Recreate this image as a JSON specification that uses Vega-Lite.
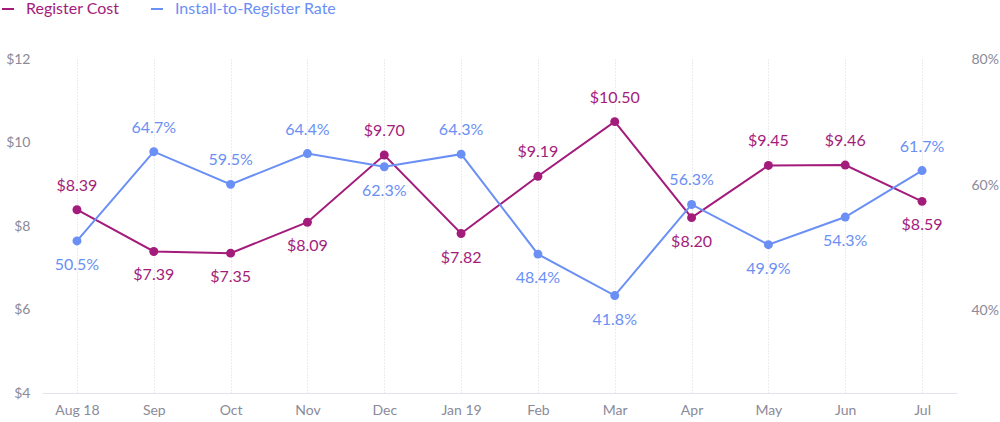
{
  "$schema": "https://vega.github.io/schema/vega-lite/v6.json",
  "width": 915,
  "height": 334,
  "autosize": "none",
  "padding": {"left": 42, "top": 59, "right": 43, "bottom": 29},
  "config": {"view": {"stroke": null}, "font": "Lato"},
  "data": {
    "values": [
      {"month": "Aug 18", "cost": 8.39, "rate": 0.505},
      {"month": "Sep", "cost": 7.39, "rate": 0.647},
      {"month": "Oct", "cost": 7.35, "rate": 0.595},
      {"month": "Nov", "cost": 8.09, "rate": 0.644},
      {"month": "Dec", "cost": 9.70, "rate": 0.623},
      {"month": "Jan 19", "cost": 7.82, "rate": 0.643},
      {"month": "Feb", "cost": 9.19, "rate": 0.484},
      {"month": "Mar", "cost": 10.50, "rate": 0.418},
      {"month": "Apr", "cost": 8.20, "rate": 0.563},
      {"month": "May", "cost": 9.45, "rate": 0.499},
      {"month": "Jun", "cost": 9.46, "rate": 0.543},
      {"month": "Jul", "cost": 8.59, "rate": 0.617}
    ]
  },
  "encoding": {
    "x": {
      "field": "month",
      "type": "ordinal",
      "sort": null,
      "scale": {"type": "point", "padding": 0.455},
      "axis": {
        "title": null,
        "labelAngle": 0,
        "grid": true,
        "gridDash": [1, 2],
        "gridColor": "#d9d9de",
        "ticks": false,
        "domainColor": "#e1e4ec",
        "labelColor": "#8a8a99",
        "labelFontSize": 14,
        "labelPadding": 10
      }
    }
  },
  "layer": [
    {
      "encoding": {
        "y": {
          "field": "cost",
          "type": "quantitative",
          "scale": {"domain": [4, 12], "zero": false, "nice": false},
          "axis": {
            "title": null,
            "values": [4, 6, 8, 10, 12],
            "labelExpr": "'$' + datum.value",
            "domain": false,
            "ticks": false,
            "grid": false,
            "labelPadding": 12,
            "labelColor": "#8a8a99",
            "labelFontSize": 14
          }
        },
        "color": {
          "datum": "Register Cost",
          "type": "nominal",
          "scale": {"domain": ["Register Cost", "Install-to-Register Rate"], "range": ["#a31c7b", "#6a8ff5"]},
          "legend": {
            "orient": "none",
            "legendX": -42,
            "legendY": -58,
            "direction": "horizontal",
            "title": null,
            "symbolType": "stroke",
            "symbolStrokeWidth": 2,
            "symbolSize": 144,
            "labelFontSize": 16,
            "labelLimit": 400,
            "columnPadding": 27,
            "labelOffset": 10,
            "encode": {"labels": {"update": {"fill": {"scale": "color", "field": "value"}}}}
          }
        }
      },
      "layer": [
        {"mark": {"type": "line", "strokeWidth": 2}},
        {"mark": {"type": "point", "filled": true, "size": 80, "opacity": 1}},
        {
          "transform": [{"filter": {"field": "month", "oneOf": ["Aug 18", "Dec", "Feb", "Mar", "May", "Jun"]}}],
          "mark": {"type": "text", "dy": -24, "fontSize": 16},
          "encoding": {"text": {"field": "cost", "type": "quantitative", "format": "$.2f"}}
        },
        {
          "transform": [{"filter": {"field": "month", "oneOf": ["Sep", "Oct", "Nov", "Jan 19", "Apr", "Jul"]}}],
          "mark": {"type": "text", "dy": 24, "fontSize": 16},
          "encoding": {"text": {"field": "cost", "type": "quantitative", "format": "$.2f"}}
        }
      ]
    },
    {
      "encoding": {
        "y": {
          "field": "rate",
          "type": "quantitative",
          "scale": {"domain": [0.263, 0.7945], "zero": false, "nice": false},
          "axis": {
            "orient": "right",
            "title": null,
            "values": [0.3938, 0.5936, 0.794],
            "labelExpr": "format(round(datum.value * 10) / 10, '.0%')",
            "domain": false,
            "ticks": false,
            "grid": false,
            "labelPadding": 14,
            "labelColor": "#8a8a99",
            "labelFontSize": 14
          }
        },
        "color": {"datum": "Install-to-Register Rate", "type": "nominal"}
      },
      "layer": [
        {"mark": {"type": "line", "strokeWidth": 2}},
        {"mark": {"type": "point", "filled": true, "size": 80, "opacity": 1}},
        {
          "transform": [{"filter": {"field": "month", "oneOf": ["Sep", "Oct", "Nov", "Jan 19", "Apr", "Jul"]}}],
          "mark": {"type": "text", "dy": -24, "fontSize": 16},
          "encoding": {"text": {"field": "rate", "type": "quantitative", "format": ".1%"}}
        },
        {
          "transform": [{"filter": {"field": "month", "oneOf": ["Aug 18", "Dec", "Feb", "Mar", "May", "Jun"]}}],
          "mark": {"type": "text", "dy": 24, "fontSize": 16},
          "encoding": {"text": {"field": "rate", "type": "quantitative", "format": ".1%"}}
        }
      ]
    }
  ],
  "resolve": {"scale": {"y": "independent"}}
}
